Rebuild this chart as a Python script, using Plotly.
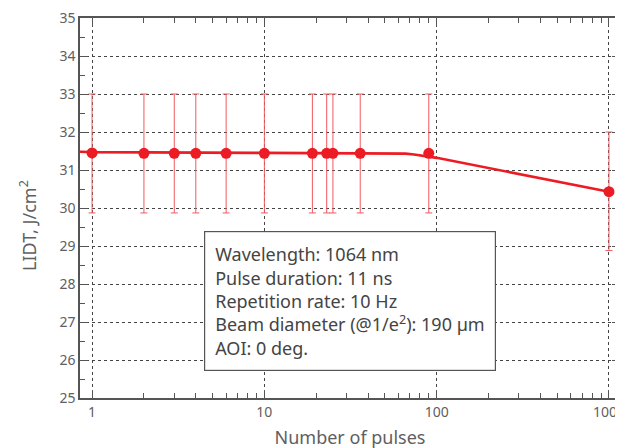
import plotly.graph_objects as go

# measured data
pulses = [1, 2, 3, 4, 6, 10, 19, 23, 25, 36, 90, 1000]
lidt = [31.45, 31.44, 31.44, 31.44, 31.44, 31.44, 31.44, 31.44, 31.44, 31.44, 31.44, 30.43]
err_up = [1.55, 1.56, 1.56, 1.56, 1.56, 1.56, 1.56, 1.56, 1.56, 1.56, 1.56, 1.57]
err_down = [1.58, 1.57, 1.57, 1.57, 1.57, 1.57, 1.57, 1.57, 1.57, 1.57, 1.57, 1.55]

# fitted curve
fit_x = [0.85, 1, 10, 40, 57, 66, 74, 83, 93, 100, 1000]
fit_y = [31.48, 31.47, 31.45, 31.44, 31.44, 31.43, 31.41, 31.38, 31.345, 31.32, 30.43]

x_major = [1, 10, 100, 1000]
x_major_text = ["1", "10", "100", "1000"]
x_minor = [m * d for d in (1, 10, 100) for m in range(2, 10)]

info_lines = [
    "Wavelength: 1064 nm",
    "Pulse duration: 11 ns",
    "Repetition rate: 10 Hz",
    "Beam diameter (@1/e<sup>2</sup>): 190 µm",
    "AOI: 0 deg.",
]

RED = "#ec1c24"
AX = "#555555"
TXT = "#606060"
FONT = "Noto Sans"

fig = go.Figure()
fig.add_trace(go.Scatter(x=fit_x, y=fit_y, mode="lines",
                         line=dict(color=RED, width=2.6, shape="linear"),
                         hoverinfo="skip", showlegend=False))
fig.add_trace(go.Scatter(
    x=pulses, y=lidt, mode="markers",
    marker=dict(color=RED, size=11),
    error_y=dict(type="data", array=err_up, arrayminus=err_down,
                 color="#f05a60", thickness=1, width=3.5),
    showlegend=False))
# invisible trace on overlay axis for minor ticks
fig.add_trace(go.Scatter(x=[1], y=[30], xaxis="x2", mode="markers",
                         marker=dict(opacity=0), showlegend=False, hoverinfo="skip"))

fig.update_layout(
    width=623, height=448,
    margin=dict(l=72, r=11, t=10, b=58),
    paper_bgcolor="white", plot_bgcolor="white",
    font=dict(family=FONT, color=TXT),
    xaxis=dict(type="log", range=[-0.07, 3.064], tickvals=x_major, ticktext=x_major_text,
               showgrid=True, gridcolor="#444", griddash="dot", gridwidth=1,
               ticks="inside", ticklen=8, tickcolor=AX, mirror="ticks",
               showline=True, linecolor=AX, linewidth=1.5, ticklabeloverflow="allow",
               tickfont=dict(size=14, color=TXT), automargin=False,
               title=dict(text="Number of pulses", font=dict(size=18, color=TXT), standoff=12),
               zeroline=False),
    xaxis2=dict(type="log", range=[-0.07, 3.064], overlaying="x", tickvals=x_minor,
                showticklabels=False, ticks="inside", ticklen=5, tickcolor=AX,
                mirror="ticks", showgrid=False, showline=False, zeroline=False, anchor="y"),
    yaxis=dict(range=[25, 35], tickvals=list(range(25, 36)), showgrid=True,
               gridcolor="#444", griddash="dot", gridwidth=1,
               ticks="inside", ticklen=8, tickcolor=AX, mirror="ticks",
               minor=dict(ticks="inside", ticklen=5, dtick=0.5, tickcolor=AX, showgrid=False),
               showline=True, linecolor=AX, linewidth=1.5, ticklabeloverflow="allow",
               tickfont=dict(size=14, color=TXT), automargin=False,
               zeroline=False),
    annotations=[
        dict(text="<br>".join(info_lines), xref="paper", yref="paper",
             x=(204 - 80) / 540, y=(398 - 231) / 380, xanchor="left", yanchor="top",
             align="left", showarrow=False, font=dict(size=18, color="#444", family=FONT),
             bgcolor="white", bordercolor="#555", borderwidth=1.2, borderpad=10),
        dict(text="LIDT, J/cm<sup>2</sup>", xref="paper", yref="paper",
             x=(28 - 80) / 540, y=(398 - 226) / 380, xanchor="center", yanchor="middle",
             textangle=-90, showarrow=False, font=dict(size=18, color=TXT, family=FONT)),
    ],
)

fig.write_html("out.html")
